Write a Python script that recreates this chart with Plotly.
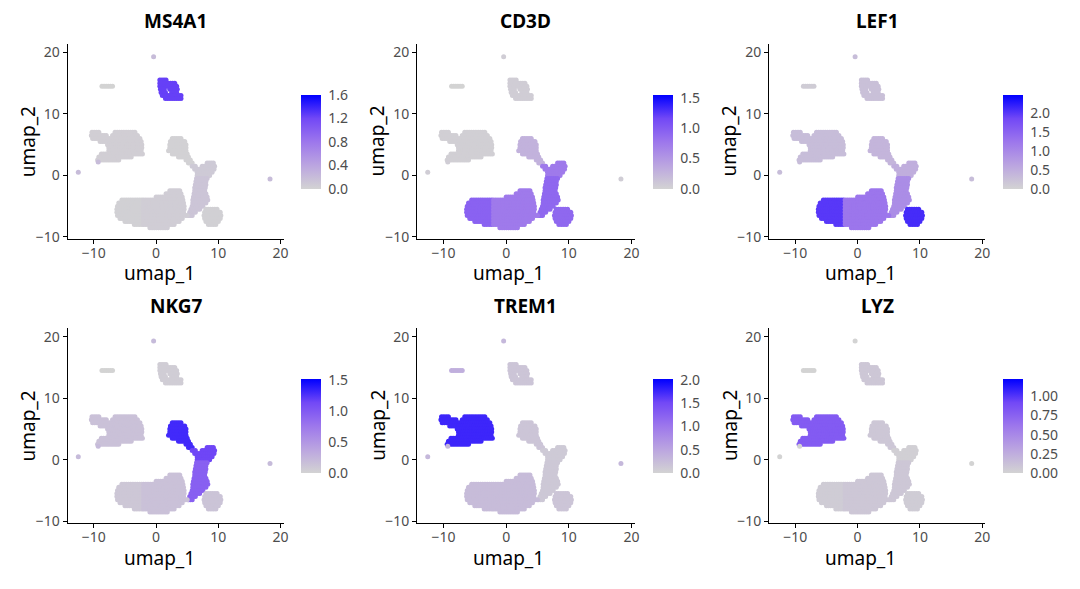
"""UMAP feature plots for six marker genes (Seurat FeaturePlot style)."""

import numpy as np
import plotly.graph_objects as go

# page is 1080x589, the browser keeps an 8px body margin round the figure
PAGE_PAD = 8
W, H = 1080 - 2 * PAGE_PAD, 589 - 2 * PAGE_PAD

GENES = ["MS4A1", "CD3D", "LEF1", "NKG7", "TREM1", "LYZ"]

# cell groups on the umap, order used by the expression lists below
CLUSTERS = ["B", "PLT", "MONO", "NK", "T_UP", "T_COL", "T_BLOB", "T_LEFT", "T_MID", "STRAY"]

# outlines: [umap_2, umap_1 start, umap_1 end]
SPANS_B = [
    [15.5, 0.6, 1.6],
    [15.0, 0.6, 1.4], [15.0, 2.0, 3.0],
    [14.5, 0.6, 3.3],
    [14.0, 0.7, 1.3], [14.0, 2.2, 3.4],
    [13.5, 0.8, 1.5], [13.5, 2.5, 3.3],
    [13.0, 1.0, 4.0],
    [12.5, 1.5, 4.0],
]
SPANS_PLT = [[14.5, -8.7, -7.0]]
SPANS_MONO = [
    [7.0, -10.3, -9.2], [7.0, -6.6, -3.4],
    [6.5, -10.4, -8.0], [6.5, -7.0, -3.0],
    [6.0, -10.2, -2.6],
    [5.5, -9.0, -2.4],
    [5.0, -7.8, -2.3],
    [4.5, -7.6, -2.3],
    [4.0, -7.6, -2.4],
    [3.5, -8.8, -2.2],
    [3.0, -9.2, -4.0],
    [2.5, -9.4, -6.0],
]
SPANS_NK = [
    [6.0, 2.6, 4.0],
    [5.5, 2.3, 4.6],
    [5.0, 2.2, 4.8],
    [4.5, 2.2, 4.8],
    [4.0, 2.0, 4.8],
    [3.5, 2.6, 5.0],
    [3.0, 3.6, 5.2],
    [2.5, 4.8, 5.5],
    [2.0, 5.2, 5.8],
]
SPANS_T_UP = [
    [2.0, 8.2, 9.2],
    [1.5, 5.8, 6.3], [1.5, 7.4, 9.4],
    [1.0, 6.2, 9.3],
    [0.5, 6.6, 9.0],
    [0.0, 6.6, 8.6],
]
SPANS_T_COL = [
    [-0.5, 6.5, 8.2],
    [-1.0, 6.4, 8.0],
    [-1.5, 6.3, 8.0],
    [-2.0, 6.2, 7.9],
    [-2.5, 6.2, 7.8],
    [-3.0, 6.1, 8.0],
    [-3.5, 6.0, 8.2],
    [-4.0, 5.9, 8.3],
    [-4.5, 5.9, 8.0],
    [-5.0, 5.8, 7.5],
    [-5.5, 5.6, 7.0],
    [-6.0, 5.4, 6.3],
    [-6.5, 5.2, 5.8],
]
SPANS_T_BLOB = [
    [-5.5, 8.0, 9.8],
    [-6.0, 7.8, 10.3],
    [-6.5, 7.7, 10.4],
    [-7.0, 7.8, 10.3],
    [-7.5, 8.0, 10.0],
    [-8.0, 8.4, 9.6],
]
SPANS_T_LEFT = [
    [-4.0, -5.5, -2.3],
    [-4.5, -6.0, -2.3],
    [-5.0, -6.2, -2.3],
    [-5.5, -6.3, -2.3],
    [-6.0, -6.3, -2.3],
    [-6.5, -6.2, -2.3],
    [-7.0, -5.8, -2.3],
    [-7.5, -5.0, -2.3],
    [-8.0, -3.5, -2.3],
]
SPANS_T_MID = [
    [-2.5, 2.2, 3.8],
    [-3.0, 1.6, 4.0],
    [-3.5, 0.0, 4.2],
    [-4.0, -2.0, 4.3],
    [-4.5, -2.0, 4.4],
    [-5.0, -2.0, 4.5],
    [-5.5, -2.0, 4.5],
    [-6.0, -2.0, 4.4],
    [-6.5, -2.0, 4.2], [-6.5, 4.7, 5.0],
    [-7.0, -2.0, 4.2],
    [-7.5, -2.0, 3.7],
    [-8.0, -2.0, 2.9],
    [-8.5, -1.0, 1.8],
]
SPANS_STRAY = [
    [19.3, -0.4, -0.4],
    [0.5, -12.5, -12.5],
    [-0.6, 18.3, 18.3],
    [2.2, -9.3, -9.3],
]

# mean expression per cluster, same order as CLUSTERS
EXPR_MS4A1 = [1.25, 0.00, 0.04, 0.02, 0.08, 0.12, 0.03, 0.03, 0.05, 0.20]
EXPR_CD3D = [0.05, 0.00, 0.03, 0.28, 0.75, 0.90, 0.90, 0.95, 0.75, 0.05]
EXPR_LEF1 = [0.25, 0.10, 0.30, 0.40, 0.50, 0.95, 2.10, 2.00, 1.25, 0.30]
EXPR_NKG7 = [0.05, 0.00, 0.15, 1.30, 1.15, 0.95, 0.12, 0.10, 0.15, 0.20]
EXPR_TREM1 = [0.15, 0.40, 1.75, 0.15, 0.10, 0.12, 0.15, 0.25, 0.25, 0.30]
EXPR_LYZ = [0.08, 0.00, 0.80, 0.08, 0.03, 0.08, 0.05, 0.05, 0.08, 0.00]

SCALE_MAX = [1.61, 1.55, 2.48, 1.52, 2.02, 1.23]
BAR_TICKS = [
    [0.0, 0.4, 0.8, 1.2, 1.6],
    [0.0, 0.5, 1.0, 1.5],
    [0.0, 0.5, 1.0, 1.5, 2.0],
    [0.0, 0.5, 1.0, 1.5],
    [0.0, 0.5, 1.0, 1.5, 2.0],
    [0.0, 0.25, 0.5, 0.75, 1.0],
]
BAR_FORMAT = [".1f", ".1f", ".1f", ".1f", ".1f", ".2f"]

AXIS_TICKS = [-10, 0, 10, 20]
X_RANGE = [-14.2, 20.5]
Y_RANGE = [-10.3, 21.4]

# lightgrey -> blue, blended in Lab like ggplot
COLORSCALE = [
    [0.0, "#D3D3D3"],
    [0.25, "#BBA5E0"],
    [0.5, "#9D77EC"],
    [0.75, "#7248F6"],
    [1.0, "#0000FF"],
]

# panel boxes in page pixels
COL_PX = [(68, 285), (419, 637.7), (772.7, 990)]
ROW_PX = [(43.3, 241), (331.7, 529.3)]
BAR_LEFT_PX = [302.7, 656, 1007.7]
BAR_PX = [(95, 190), (383.3, 478.3)]

STEP = 0.35
FONT = "Noto Sans, Open Sans, DejaVu Sans, sans-serif"

SPANS = dict(zip(CLUSTERS, [
    SPANS_B, SPANS_PLT, SPANS_MONO, SPANS_NK, SPANS_T_UP,
    SPANS_T_COL, SPANS_T_BLOB, SPANS_T_LEFT, SPANS_T_MID, SPANS_STRAY,
]))
EXPR = dict(zip(GENES, [EXPR_MS4A1, EXPR_CD3D, EXPR_LEF1, EXPR_NKG7, EXPR_TREM1, EXPR_LYZ]))


def cluster_cells(spans):
    xs, ys = [], []
    for y, x0, x1 in spans:
        n = int(round((x1 - x0) / STEP)) + 1
        row = np.linspace(x0, x1, n) if n > 1 else np.array([x0])
        xs.extend(row.tolist())
        ys.extend([y] * len(row))
    return xs, ys


cells = {c: cluster_cells(SPANS[c]) for c in CLUSTERS}


def px_x(p):
    return (p - PAGE_PAD) / W


def px_y(p):
    return 1 - (p - PAGE_PAD) / H


fig = go.Figure()
annotations = []

for i, gene in enumerate(GENES):
    r, c = divmod(i, 3)
    n = i + 1
    xs, ys, vals = [], [], []
    for k, cl in enumerate(CLUSTERS):
        cx, cy = cells[cl]
        xs.extend(cx)
        ys.extend(cy)
        vals.extend([EXPR[gene][k]] * len(cx))

    b0, b1 = BAR_PX[r]
    fig.add_trace(
        go.Scatter(
            x=xs,
            y=ys,
            mode="markers",
            xaxis=f"x{n}",
            yaxis=f"y{n}",
            showlegend=False,
            hoverinfo="skip",
            marker=dict(
                size=5,
                color=vals,
                cmin=0,
                cmax=SCALE_MAX[i],
                colorscale=COLORSCALE,
                line=dict(width=0),
                colorbar=dict(
                    x=px_x(BAR_LEFT_PX[c]),
                    xanchor="left",
                    xpad=0,
                    y=px_y((b0 + b1) / 2),
                    yanchor="middle",
                    ypad=0,
                    len=(b1 - b0) / H,
                    lenmode="fraction",
                    thickness=20,
                    outlinewidth=0,
                    tickvals=BAR_TICKS[i],
                    tickformat=BAR_FORMAT[i],
                    ticks="outside",
                    ticklen=5,
                    tickcolor="white",
                    tickfont=dict(size=14, color="#4D4D4D", family=FONT),
                ),
            ),
        )
    )

    x0, x1 = COL_PX[c]
    y0, y1 = ROW_PX[r]
    axis_common = dict(
        showline=True,
        linecolor="black",
        linewidth=1.1,
        ticks="outside",
        ticklen=4,
        tickcolor="black",
        tickvals=AXIS_TICKS,
        tickfont=dict(size=14, color="#4D4D4D", family=FONT),
        showgrid=False,
        zeroline=False,
        fixedrange=True,
    )
    fig.update_layout(
        {
            f"xaxis{n}": dict(axis_common, domain=[px_x(x0), px_x(x1)], range=X_RANGE,
                              anchor=f"y{n}", ticklabelstandoff=-3),
            f"yaxis{n}": dict(axis_common, domain=[px_y(y1), px_y(y0)], range=Y_RANGE,
                              anchor=f"x{n}"),
        }
    )

    annotations.append(dict(
        text=f"<b>{gene}</b>", x=px_x((x0 + x1) / 2), y=px_y(y0 - 23), xref="paper", yref="paper",
        showarrow=False, xanchor="center", yanchor="middle",
        font=dict(size=19, color="black", family=FONT),
    ))
    annotations.append(dict(
        text="umap_1", x=px_x(x0 + 92), y=px_y(y1 + 35), xref="paper", yref="paper",
        showarrow=False, xanchor="center", yanchor="middle",
        font=dict(size=19, color="black", family=FONT),
    ))
    annotations.append(dict(
        text="umap_2", x=px_x(x0 - 40), y=px_y((y0 + y1) / 2), xref="paper", yref="paper",
        showarrow=False, xanchor="center", yanchor="middle", textangle=-90,
        font=dict(size=19, color="black", family=FONT),
    ))

fig.update_layout(
    width=W,
    height=H,
    margin=dict(l=0, r=0, t=0, b=0),
    paper_bgcolor="white",
    plot_bgcolor="white",
    font=dict(family=FONT),
    annotations=annotations,
)

fig.write_html("out.html")
